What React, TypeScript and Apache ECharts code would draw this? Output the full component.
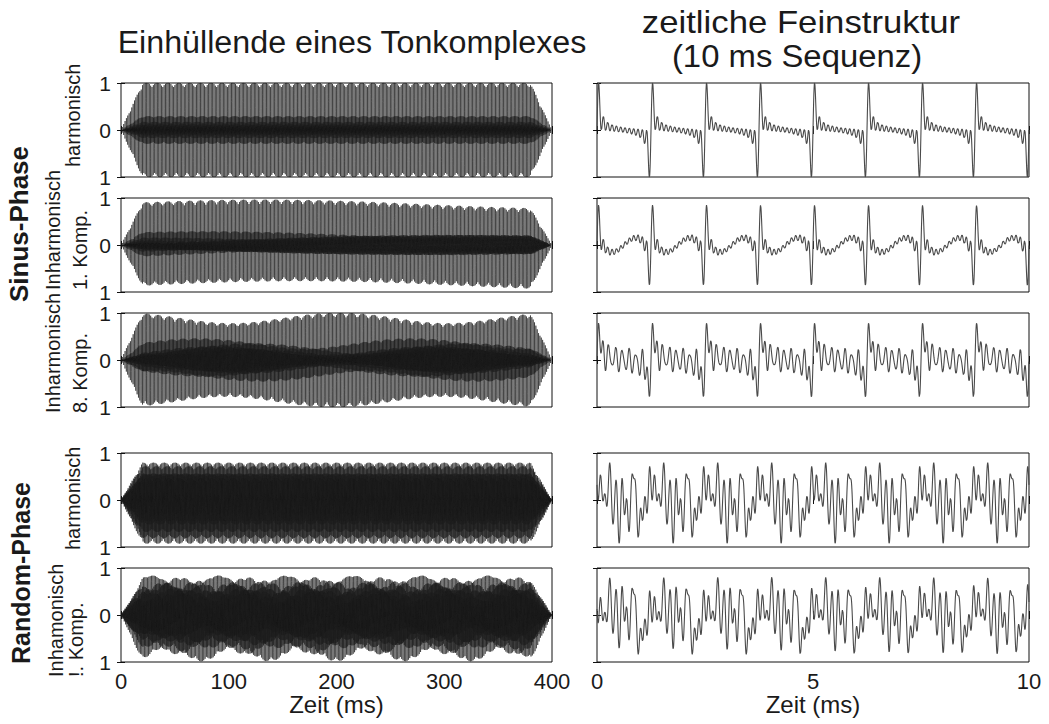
import React, { useEffect, useRef } from "react";
import * as echarts from "echarts";

// ---- Tone complex parameters ----
const fundamentalHz = 800;
const harmonicNumbers = [1, 2, 3, 4, 5, 6, 7, 8, 9, 10, 11, 12];
const sinePhases = [0, 0, 0, 0, 0, 0, 0, 0, 0, 0, 0, 0];
const randomPhases = [0.9, 0.2, 1.9, 2.6, 5.6, 1.1, 4.0, 3.0, 0.8, 4.3, 2.5, 3.7];

// One entry per row, top to bottom
const rowPhaseType = ["sinus", "sinus", "sinus", "random", "random"];
const rowMistunedHarmonic = [0, 1, 8, 0, 1]; // 0 = no mistuned component
const rowMistuningHz = [0, 1.67, 5, 0, 16];
const rowPeakLevel = [1.0, 0.96, 1.0, 0.92, 0.98];
const rowLabelLines = [
  ["harmonisch"],
  ["Inharmonisch", "1. Komp."],
  ["Inharmonisch", "8. Komp."],
  ["harmonisch"],
  ["Inhamonisch", "!. Komp."],
];

// Timing (ms)
const durationMs = 400;
const rampMs = 20;
const excerptStartMs = 300;
const excerptLengthMs = 10;
const envelopeRateHz = 44100;
const excerptRateHz = 200000;

// Axis ticks
const envelopeTickInterval = 100;
const excerptTickInterval = 5;
const amplitudeTicks = [-1, 0, 1];

// Texts
const envelopeTitle = "Einhüllende eines Tonkomplexes";
const fineTitleLines = ["zeitliche Feinstruktur", "(10 ms Sequenz)"];
const groupLabels = ["Sinus-Phase", "Random-Phase"];
const timeAxisName = "Zeit (ms)";

// ---- Layout ----
const FONT = '"Liberation Sans", Arial, Helvetica, sans-serif';
const ROW_TOPS = [83, 198, 313, 453, 568];
const ROW_HEIGHT = 94;
const COL_LEFTS = [121, 597];
const COL_WIDTHS = [431, 432];

function rampGain(tMs: number): number {
  if (tMs < rampMs) return Math.max(0, tMs / rampMs);
  if (tMs > durationMs - rampMs) return Math.max(0, (durationMs - tMs) / rampMs);
  return 1;
}

function rawSample(row: number, tMs: number): number {
  const phases = rowPhaseType[row] === "random" ? randomPhases : sinePhases;
  const t = tMs / 1000;
  let s = 0;
  for (let k = 0; k < harmonicNumbers.length; k++) {
    const n = harmonicNumbers[k];
    let f = n * fundamentalHz;
    if (n === rowMistunedHarmonic[row]) f += rowMistuningHz[row];
    s += Math.sin(2 * Math.PI * f * t + phases[k]);
  }
  return s;
}

function rowScale(row: number): number {
  let peak = 0;
  for (let tMs = 0; tMs <= durationMs; tMs += 0.01) {
    const v = Math.abs(rawSample(row, tMs));
    if (v > peak) peak = v;
  }
  return rowPeakLevel[row] / peak;
}

function envelopeData(row: number, scale: number): number[][] {
  const n = Math.round((durationMs / 1000) * envelopeRateHz);
  const out: number[][] = [];
  for (let i = 0; i <= n; i++) {
    const tMs = (i * 1000) / envelopeRateHz;
    out.push([tMs, rawSample(row, tMs) * rampGain(tMs) * scale]);
  }
  return out;
}

function excerptData(row: number, scale: number): number[][] {
  const n = Math.round((excerptLengthMs / 1000) * excerptRateHz);
  const out: number[][] = [];
  for (let i = 0; i <= n; i++) {
    const tMs = (i * 1000) / excerptRateHz;
    out.push([tMs, rawSample(row, excerptStartMs + tMs) * scale]);
  }
  return out;
}

function buildOption() {
  const grid: any[] = [];
  const xAxis: any[] = [];
  const yAxis: any[] = [];
  const series: any[] = [];
  const lastRow = ROW_TOPS.length - 1;

  const scales = ROW_TOPS.map((_, r) => rowScale(r));

  for (let col = 0; col < 2; col++) {
    for (let row = 0; row < ROW_TOPS.length; row++) {
      const gi = col * ROW_TOPS.length + row;
      grid.push({
        left: COL_LEFTS[col],
        top: ROW_TOPS[row],
        width: COL_WIDTHS[col],
        height: ROW_HEIGHT,
        show: true,
        borderColor: "#111",
        borderWidth: 1,
        backgroundColor: "#fff",
      });
      const isEnv = col === 0;
      const xMax = isEnv ? durationMs : excerptLengthMs;
      const xInt = isEnv ? envelopeTickInterval : excerptTickInterval;
      const tick = { show: true, inside: true, length: 4, lineStyle: { color: "#111", width: 1 } };
      xAxis.push({
        gridIndex: gi,
        type: "value",
        position: "bottom",
        min: 0,
        max: xMax,
        interval: xInt,
        axisLine: { show: false },
        axisTick: tick,
        splitLine: { show: false },
        axisLabel: {
          show: row === lastRow,
          fontSize: 22,
          color: "#1a1a1a",
          fontFamily: FONT,
          margin: 8,
        },
        name: row === lastRow ? timeAxisName : "",
        nameLocation: "middle",
        nameGap: 29,
        nameTextStyle: { fontSize: 24, color: "#1a1a1a", fontFamily: FONT },
      });
      xAxis.push({
        gridIndex: gi,
        type: "value",
        position: "top",
        min: 0,
        max: xMax,
        interval: xInt,
        axisLine: { show: false },
        axisTick: tick,
        splitLine: { show: false },
        axisLabel: { show: false },
      });
      yAxis.push({
        gridIndex: gi,
        type: "value",
        position: "left",
        min: amplitudeTicks[0],
        max: amplitudeTicks[amplitudeTicks.length - 1],
        interval: 1,
        axisLine: { show: false },
        axisTick: tick,
        splitLine: { show: false },
        axisLabel: {
          show: isEnv,
          fontSize: 21,
          color: "#1a1a1a",
          fontFamily: FONT,
          margin: 10,
          formatter: (v: number) => String(Math.abs(v)),
        },
      });
      yAxis.push({
        gridIndex: gi,
        type: "value",
        position: "right",
        min: amplitudeTicks[0],
        max: amplitudeTicks[amplitudeTicks.length - 1],
        interval: 1,
        axisLine: { show: false },
        axisTick: tick,
        splitLine: { show: false },
        axisLabel: { show: false },
      });
      series.push({
        type: "line",
        xAxisIndex: gi * 2,
        yAxisIndex: gi * 2,
        data: isEnv ? envelopeData(row, scales[row]) : excerptData(row, scales[row]),
        showSymbol: false,
        symbol: "none",
        silent: true,
        clip: true,
        lineStyle: isEnv ? { color: "#1e1e1e", width: 0.6 } : { color: "#4a4a4a", width: 1.1 },
        emphasis: { disabled: true },
      });
    }
  }

  const graphic: any[] = [];
  const textStyle = (extra: any) => ({ fontFamily: FONT, fill: "#1a1a1a", ...extra });

  graphic.push({
    type: "text",
    x: 352,
    y: 42,
    scaleX: 1.04,
    style: textStyle({ text: envelopeTitle, fontSize: 31, align: "center", verticalAlign: "middle" }),
  });
  graphic.push({
    type: "text",
    x: 801,
    y: 22,
    scaleX: 1.12,
    style: textStyle({ text: fineTitleLines[0], fontSize: 31, align: "center", verticalAlign: "middle" }),
  });
  graphic.push({
    type: "text",
    x: 797,
    y: 56,
    scaleX: 1.06,
    style: textStyle({ text: fineTitleLines[1], fontSize: 31, align: "center", verticalAlign: "middle" }),
  });

  // Group labels (rotated, bold)
  const groupCenters = [[19, 224], [21, 573]];
  groupLabels.forEach((txt, i) => {
    graphic.push({
      type: "text",
      x: groupCenters[i][0],
      y: groupCenters[i][1],
      rotation: Math.PI / 2,
      style: textStyle({ text: txt, fontSize: i === 0 ? 26 : 25, fontWeight: "bold", align: "center", verticalAlign: "middle" }),
    });
  });

  // Row labels (rotated, starting at the bottom)
  const labelBottoms = [167, 290, 413, 550, 677];
  const labelColumns = [[73], [53, 80], [53, 80], [73], [56, 76]];
  rowLabelLines.forEach((lines, r) => {
    lines.forEach((txt, j) => {
      graphic.push({
        type: "text",
        x: labelColumns[r][j],
        y: labelBottoms[r],
        rotation: Math.PI / 2,
        style: textStyle({ text: txt, fontSize: 20, align: "left", verticalAlign: "middle" }),
      });
    });
  });

  return {
    animation: false,
    backgroundColor: "#fff",
    grid,
    xAxis,
    yAxis,
    series,
    graphic,
  };
}

export default function App() {
  const ref = useRef<HTMLDivElement>(null);
  useEffect(() => {
    if (!ref.current) return;
    const chart = echarts.init(ref.current, undefined, { renderer: "svg" });
    chart.setOption(buildOption() as any);
    return () => chart.dispose();
  }, []);
  return (
    <div
      ref={ref}
      style={{ position: "absolute", left: 0, top: 0, width: 1049, height: 724, background: "#fff" }}
    />
  );
}
